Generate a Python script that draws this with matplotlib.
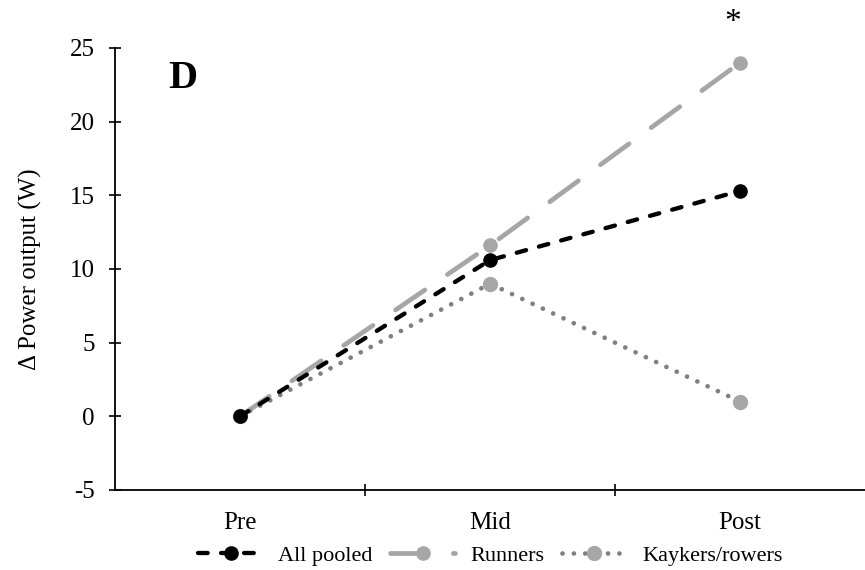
import numpy as np
import matplotlib.pyplot as plt

plt.rcParams['font.family'] = ['Liberation Serif', 'DejaVu Serif']
plt.rcParams['axes.unicode_minus'] = False

# data
phases = ["Pre", "Mid", "Post"]
all_pooled = [0, 10.6, 15.3]
runners = [0, 11.6, 24.0]
kayakers = [0, 9.0, 1.0]

x = np.arange(len(phases))

fig = plt.figure(figsize=(8.65, 5.70), dpi=100)
ax = fig.add_axes([0.133, 0.1404, 0.867, 0.7754])

ax.plot(x, runners, color="#A6A6A6", lw=3.4, dashes=(7.5, 5.8), dash_capstyle="round",
        marker="o", ms=9.5, mec="#A6A6A6", mfc="#A6A6A6", label="Runners", zorder=2)
ax.plot(x, kayakers, color="#808080", lw=3.4, dashes=(0.01, 2.4), dash_capstyle="round",
        marker="o", ms=10, mec="#A6A6A6", mfc="#A6A6A6", label="Kaykers/rowers", zorder=2)
ax.plot(x, all_pooled, color="black", lw=3.1, dashes=(2.25, 3.1), dash_capstyle="round",
        marker="o", ms=9.5, mec="black", mfc="black", label="All pooled", zorder=3)

ax.set_xlim(-0.5, 2.5)
ax.set_ylim(-5, 25)
ax.set_yticks(np.arange(-5, 26, 5))
ax.set_xticks(x)
ax.set_xticklabels(phases)
ax.set_xticks([0.5, 1.5], minor=True)
ax.tick_params(axis="x", which="major", length=0, labelsize=18, pad=16)
ax.tick_params(axis="x", which="minor", direction="inout", length=9, width=1.2)
ax.tick_params(axis="y", direction="inout", length=9, width=1.2, labelsize=18, pad=10)

for s in ["top", "right"]:
    ax.spines[s].set_visible(False)
ax.spines["left"].set_linewidth(1.3)
ax.spines["bottom"].set_linewidth(1.3)

ax.set_ylabel("Δ Power output (W)", fontsize=18, labelpad=20)

ax.text(-0.23, 22.9, "D", fontsize=29, fontweight="bold", ha="center", va="center")
ax.text(1.97, 26.7, "*", fontsize=24, ha="center", va="center", clip_on=False)

handles, labels = ax.get_legend_handles_labels()
order = [2, 0, 1]
ax.legend([handles[i] for i in order], [labels[i] for i in order],
          loc="center", bbox_to_anchor=(0.567, 0.025), bbox_transform=fig.transFigure,
          ncol=3, frameon=False, fontsize=16, handlelength=2.9,
          columnspacing=0.8, handletextpad=0.7)

fig.savefig("out.png", dpi=100)
